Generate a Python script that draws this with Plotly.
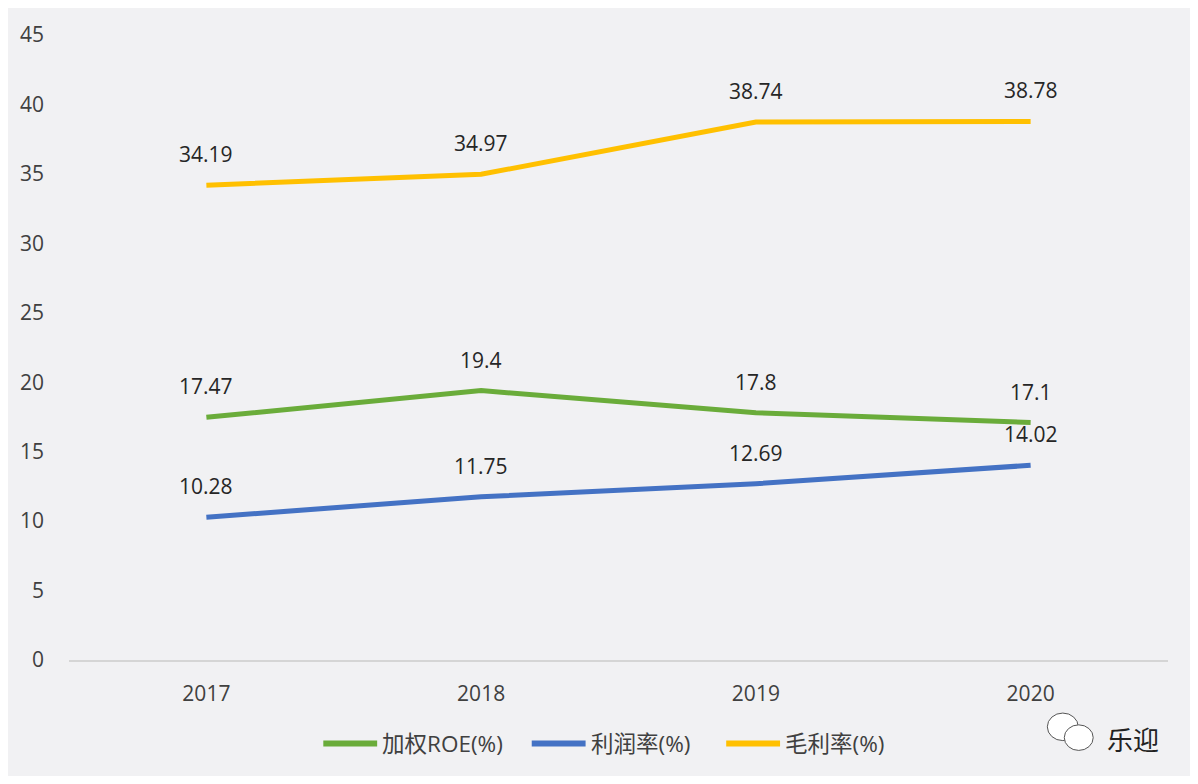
import plotly.graph_objects as go

years = ["2017", "2018", "2019", "2020"]
roe = [17.47, 19.4, 17.8, 17.1]
profit_margin = [10.28, 11.75, 12.69, 14.02]
gross_margin = [34.19, 34.97, 38.74, 38.78]

series = [
    ("加权ROE(%)", roe, "#6aac3a"),
    ("利润率(%)", profit_margin, "#4472c4"),
    ("毛利率(%)", gross_margin, "#ffc000"),
]

FONT = "Open Sans, Noto Sans CJK SC, sans-serif"
W, H = 1182, 768
ML, MR, MT, MB = 58, 22, 16, 116
PW, PH = W - ML - MR, H - MT - MB


def px(sx):  # screen x -> paper x
    return (sx - 8 - ML) / PW


def py(sy):  # screen y -> paper y
    return (H - MB - (sy - 8)) / PH


fig = go.Figure()
annotations = []
shapes = []
for name, vals, color in series:
    fig.add_trace(go.Scatter(x=years, y=vals, name=name, mode="lines",
                             line=dict(color=color, width=5), showlegend=False))
    for i, v in enumerate(vals):
        annotations.append(dict(x=i, y=v, xref="x", yref="y", text=str(v), showarrow=False,
                                yshift=31, font=dict(size=21, color="#262626", family=FONT)))

# custom legend
legend_starts = [321, 530, 725]
ly = py(745)
for (name, vals, color), sx in zip(series, legend_starts):
    shapes.append(dict(type="line", xref="paper", yref="paper", x0=px(sx), x1=px(sx + 54),
                       y0=ly, y1=ly, line=dict(color=color, width=6)))
    annotations.append(dict(xref="paper", yref="paper", x=px(sx + 57), y=ly, text=name,
                            showarrow=False, xanchor="left", yanchor="middle",
                            font=dict(size=22.5, color="#404040", family=FONT)))

# watermark
shapes.append(dict(type="circle", xref="paper", yref="paper", x0=px(1047), x1=px(1078),
                   y0=py(742), y1=py(714), fillcolor="white", line=dict(color="#555555", width=1)))
shapes.append(dict(type="circle", xref="paper", yref="paper", x0=px(1064), x1=px(1093),
                   y0=py(752), y1=py(726), fillcolor="white", line=dict(color="#555555", width=1)))
annotations.append(dict(xref="paper", yref="paper", x=px(1105), y=py(740), text="乐迎",
                        showarrow=False, xanchor="left", yanchor="middle",
                        font=dict(size=26, color="#222222", family="Noto Sans CJK SC")))

fig.update_layout(
    width=W, height=H,
    margin=dict(l=ML, r=MR, t=MT, b=MB),
    paper_bgcolor="#f1f1f3", plot_bgcolor="#f1f1f3",
    font=dict(family=FONT, size=20, color="#595959"),
    showlegend=False,
    annotations=annotations,
    shapes=shapes,
)
fig.update_xaxes(type="category", range=[-0.5, 3.5], showgrid=False, showline=True,
                 linecolor="#d5d5d5", linewidth=1.5, ticks="", ticklabelstandoff=14,
                 tickfont=dict(size=21, color="#404040"))
fig.update_yaxes(range=[0, 45], dtick=5, showgrid=False, zeroline=False, showline=False,
                 ticks="", ticklabelstandoff=24, tickfont=dict(size=21, color="#404040"))

fig.write_html("out.html")
